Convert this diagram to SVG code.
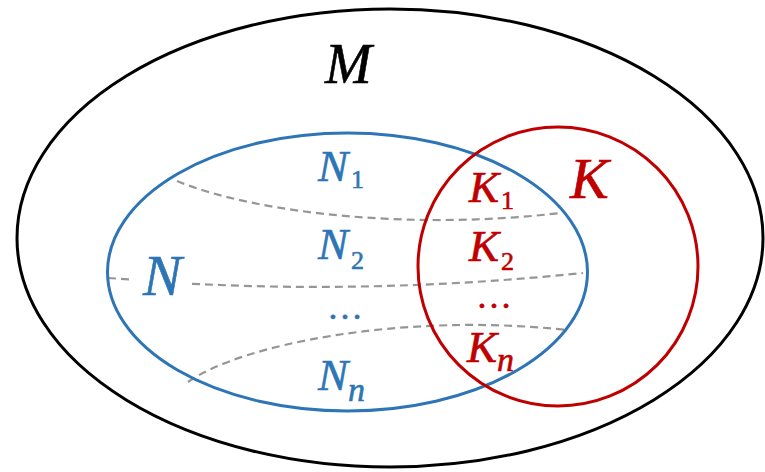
<svg xmlns="http://www.w3.org/2000/svg" width="765" height="472" viewBox="0 0 765 472">
<style>
text{font-family:"Liberation Serif","DejaVu Serif",serif;font-style:italic;stroke-width:0.6}
.sub{font-style:normal}
.blue{fill:#2E75B6;stroke:#2E75B6}
.red{fill:#C00000;stroke:#C00000}
.blk{fill:#000000;stroke:#000000}
.dash{fill:none;stroke:#969696;stroke-width:2.2;stroke-dasharray:8 5}
</style>
<rect width="765" height="472" fill="#ffffff"/>
<g id="M">
<ellipse cx="390" cy="238" rx="373" ry="229" fill="none" stroke="#000000" stroke-width="3"/>
<text class="blk" x="325" y="83" font-size="56">M</text>
</g>
<g id="connectors">
<path class="dash" d="M177,181 C260,215 420,230 560,213"/>
<path class="dash" d="M108,278 L131,279.5"/>
<path class="dash" d="M192,283.8 Q384,293.5 583,273"/>
<path class="dash" d="M188,382 C240,345 400,312 567,330"/>
</g>
<g id="N">
<ellipse cx="347.5" cy="272" rx="240" ry="139" fill="none" stroke="#2E75B6" stroke-width="3"/>
<text class="blue" x="143" y="295" font-size="58">N</text>
</g>
<g id="K">
<ellipse cx="558" cy="266.5" rx="140" ry="139.5" fill="none" stroke="#C00000" stroke-width="3"/>
<text class="red" x="570" y="198" font-size="58">K</text>
</g>
<g id="N1"><text class="blue" x="318" y="181" font-size="45">N</text><text class="blue sub" x="351" y="188" font-size="26">1</text></g>
<g id="N2"><text class="blue" x="318" y="259" font-size="45">N</text><text class="blue sub" x="351" y="269" font-size="26">2</text></g>
<g id="Ndots"><text class="blue sub" x="345" y="319" font-size="36" text-anchor="middle">…</text></g>
<g id="Nn"><text class="blue" x="318" y="390" font-size="45">N</text><text class="blue" x="348" y="401" font-size="34">n</text></g>
<g id="K1"><text class="red" x="469" y="202" font-size="45">K</text><text class="red sub" x="501" y="209" font-size="26">1</text></g>
<g id="K2"><text class="red" x="469" y="261" font-size="45">K</text><text class="red sub" x="501" y="270" font-size="26">2</text></g>
<g id="Kdots"><text class="red sub" x="494" y="308" font-size="36" text-anchor="middle">…</text></g>
<g id="Kn"><text class="red" x="467" y="362" font-size="45">K</text><text class="red" x="497" y="371" font-size="34">n</text></g>
</svg>
